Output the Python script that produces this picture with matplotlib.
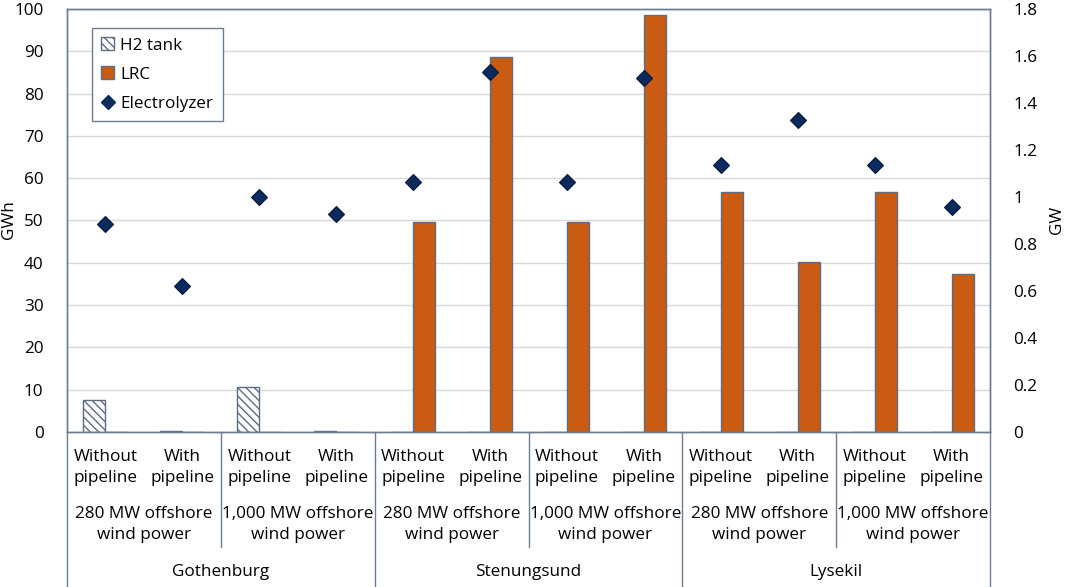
import numpy as np
import matplotlib.pyplot as plt
from matplotlib.transforms import blended_transform_factory
from matplotlib.lines import Line2D
from matplotlib.patches import Patch

plt.rcParams['font.family'] = ['Open Sans', 'DejaVu Sans']
plt.rcParams['hatch.color'] = '#808080'
plt.rcParams['hatch.linewidth'] = 1.0

# data
pipeline_labels = ['Without\npipeline', 'With\npipeline'] * 6
wind_labels = ['280 MW offshore\nwind power', '1,000 MW offshore\nwind power'] * 3
cities = ['Gothenburg', 'Stenungsund', 'Lysekil']
h2_tank = [7.6, 0.2, 10.6, 0.2, 0, 0, 0, 0, 0, 0, 0, 0]
lrc = [0, 0, 0, 0, 49.7, 88.7, 49.7, 98.6, 56.7, 40.1, 56.7, 37.3]
electrolyzer = [0.885, 0.623, 1.0, 0.928, 1.065, 1.531, 1.065, 1.505,
                1.136, 1.328, 1.136, 0.959]

orange = '#C95C12'
navy = '#0B2A5E'
edge = '#5E6B82'
frame = '#6E7C92'
fs = 12.3

fig = plt.figure(figsize=(10.65, 5.87), dpi=100)
ax = fig.add_axes([67/1065, 1-432/587, 923/1065, 423/587])

x = np.arange(len(pipeline_labels))
w = 0.286
ax.bar(x - w, h2_tank, width=w, align='edge', color='white', hatch='\\\\\\\\',
       edgecolor=edge, linewidth=1, zorder=2)
ax.bar(x, lrc, width=w, align='edge', color=orange, edgecolor=edge,
       linewidth=1, zorder=2)
ax.set_xlim(-0.5, len(x) - 0.5)
ax.set_ylim(0, 100)
ax.set_yticks(np.arange(0, 101, 10))
ax.set_xticks([])
ax.grid(axis='y', color='#D9D9D9', linewidth=1, zorder=0)
ax.set_axisbelow(True)
ax.tick_params(axis='y', length=0, pad=17, labelsize=fs)
for s in ax.spines.values():
    s.set_color(frame)
    s.set_linewidth(1)

ax2 = ax.twinx()
ax2.plot(x, electrolyzer, linestyle='none', marker='D', markersize=8.5,
         color=navy, markeredgecolor='#06163A', markeredgewidth=0.8, zorder=3)
ax2.set_ylim(0, 1.8)
ax2.set_yticks(np.arange(0, 1.81, 0.2))
ax2.set_yticklabels([f'{v:g}' for v in np.arange(0, 1.81, 0.2).round(1)])
ax2.tick_params(axis='y', length=0, pad=17, labelsize=fs)
for s in ax2.spines.values():
    s.set_color(frame)
    s.set_linewidth(1)

# axis titles
fig.text(9/1065, 1-220/587, 'GWh', rotation=90, ha='center', va='center', fontsize=fs)
fig.text(1057/1065, 1-220/587, 'GW', rotation=90, ha='center', va='center', fontsize=fs)

# multi-level category axis
tr = blended_transform_factory(ax.transData, ax.transAxes)
for i, lab in enumerate(pipeline_labels):
    ax.text(i, -0.083, lab, transform=tr, ha='center', va='center',
            fontsize=fs, linespacing=1.4)
for g in range(6):
    ax.text(2*g + 0.5, -0.219, wind_labels[g], transform=tr, ha='center',
            va='center', fontsize=fs, linespacing=1.4)
for c, name in enumerate(cities):
    ax.text(4*c + 1.5, -0.331, name, transform=tr, ha='center', va='center',
            fontsize=fs)
for b in [1.5, 5.5, 9.5]:
    ax.plot([b, b], [0, -0.272], transform=tr, color=frame, lw=1, clip_on=False)
for b in [-0.5, 3.5, 7.5, 11.5]:
    ax.plot([b, b], [0, -0.366], transform=tr, color=frame, lw=1, clip_on=False)

handles = [
    Patch(facecolor='white', edgecolor=edge, hatch='\\\\\\\\', label='H2 tank'),
    Patch(facecolor=orange, edgecolor=edge, label='LRC'),
    Line2D([], [], linestyle='none', marker='D', markersize=7, color=navy,
           label='Electrolyzer'),
]
leg = ax2.legend(handles=handles, loc='upper left', bbox_to_anchor=(0.027, 0.955),
                 borderaxespad=0, fontsize=fs, frameon=True, fancybox=False,
                 edgecolor=frame, framealpha=1, handlelength=0.75,
                 handleheight=0.75, handletextpad=0.35, labelspacing=0.75,
                 borderpad=0.55)
leg.get_frame().set_linewidth(1)

fig.savefig('out.png', dpi=100)
